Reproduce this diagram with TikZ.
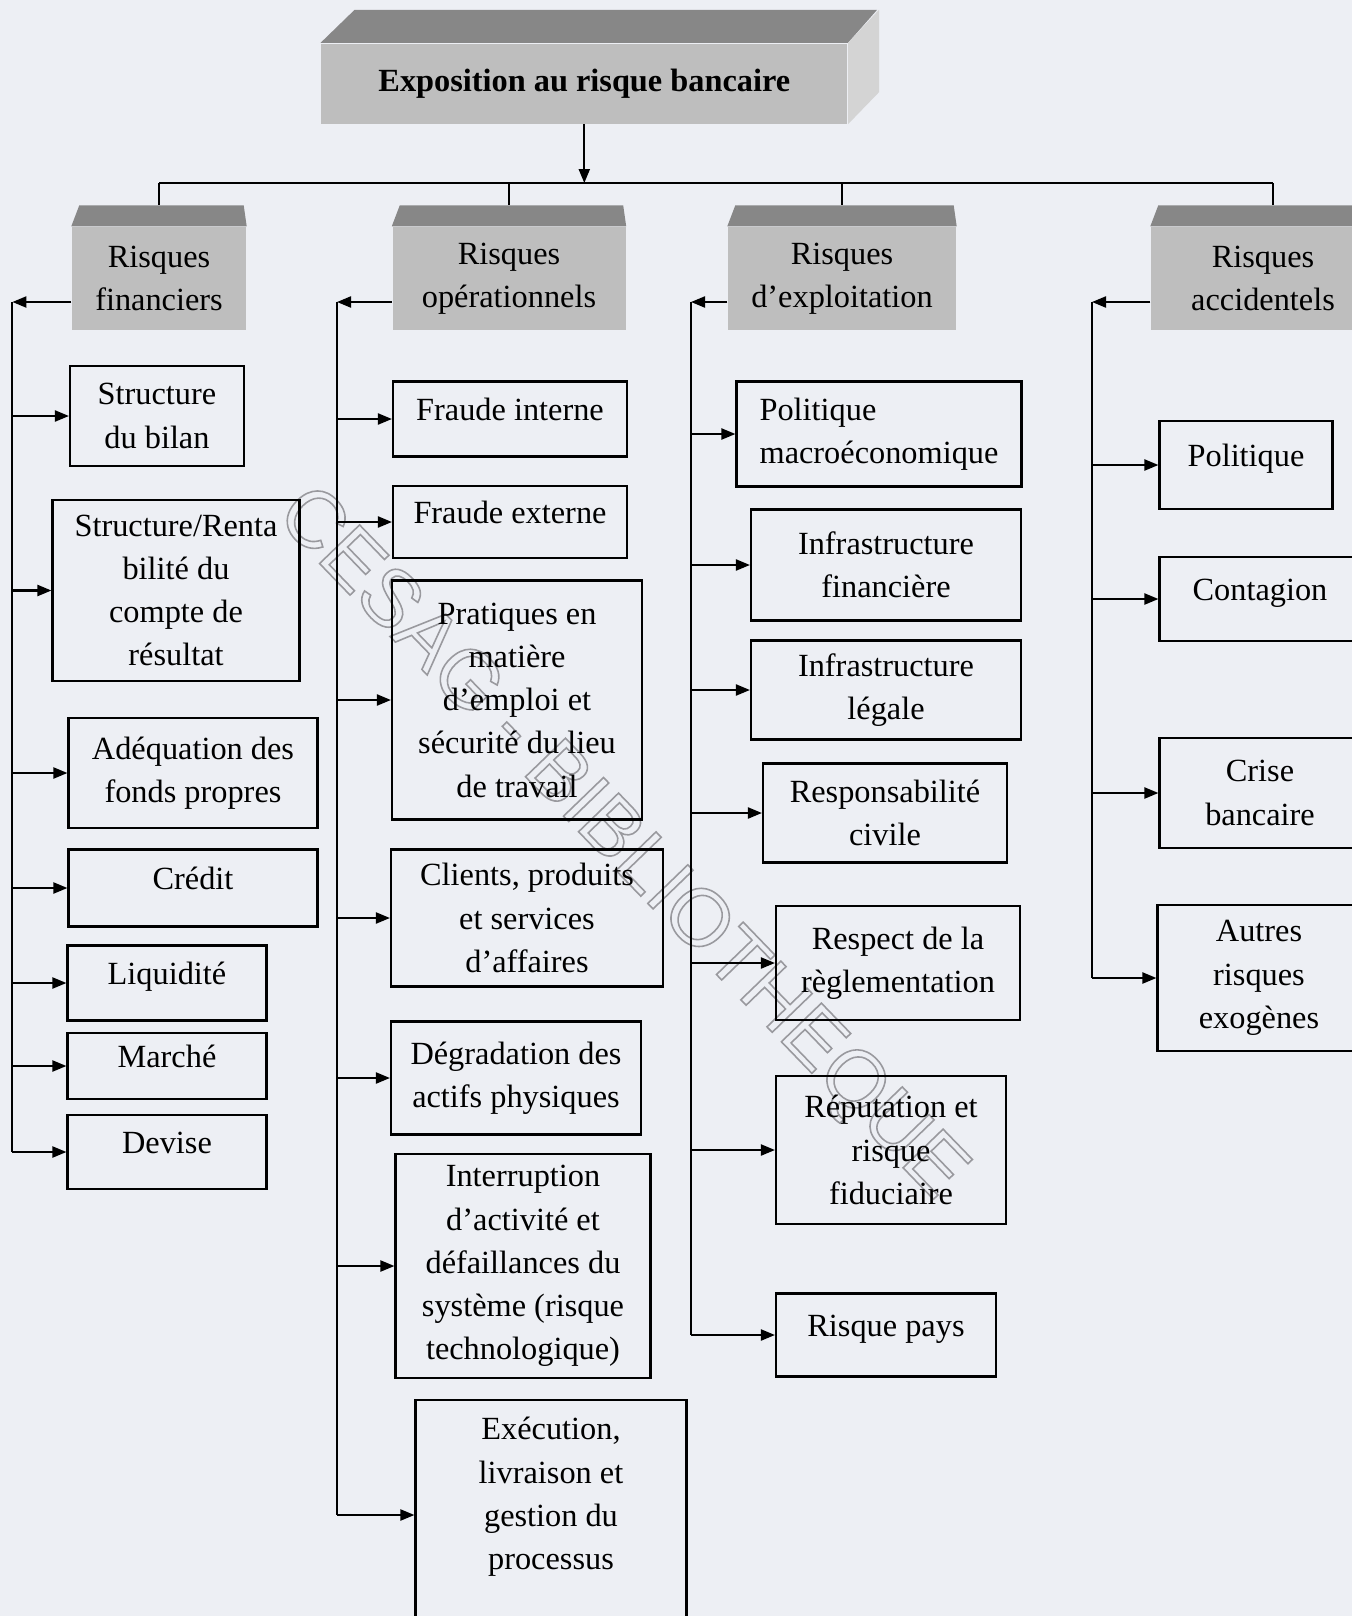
\documentclass[tikz,border=0pt]{standalone}
\usepackage{fontspec}
\setmainfont{Liberation Serif}
\newfontfamily\filigrane{Liberation Sans}
\usetikzlibrary{arrows.meta}
\definecolor{fond}{RGB}{237,239,244}
\definecolor{face}{RGB}{190,190,190}
\definecolor{dessus}{RGB}{135,135,135}
\definecolor{cote}{RGB}{212,212,212}
\newcommand{\contourfil}[1]{\special{pdf:code q 1 Tr 0.45 w 0.6 0.6 0.62 RG}#1\special{pdf:code Q}}

\begin{document}
\begin{tikzpicture}[
    risque/.style={draw, line width=0.6pt, align=center, inner sep=2pt,
                   font=\fontsize{9.2}{12.3}\selectfont},
    ligne/.style={text depth=5.4pt},
    tete/.style={fill=face, align=center, minimum width=#1, minimum height=1.03cm,
                 font=\fontsize{9.2}{12.3}\selectfont},
    fleche/.style={draw, line width=0.6pt, -{Triangle[length=1.4mm,width=1.1mm]}},
    trait/.style={draw, line width=0.6pt},
]

% Fond
\clip (0,0) rectangle (13.52,-16.16);
\fill[fond] (0,0) rectangle (13.52,-16.16);

% Filigrane
\node[rotate=-46, font=\filigrane\fontsize{23}{23}\selectfont] (filigrane) at (6.2,-8.45)
    {\contourfil{CESAG - BIBLIOTHEQUE}};

% Titre
\node[fill=face, minimum width=5.26cm, minimum height=0.80cm,
      font=\bfseries\fontsize{9.2}{12.3}\selectfont] (titre) at (5.843,-0.835)
      {Exposition au risque bancaire};
\fill[dessus] (titre.north west) -- ++(0.34,0.33) -- ++(5.225,0) -- (titre.north east) -- cycle;
\fill[cote] (titre.north east) -- ++(0.31,0.33) -- ++(0,-0.824) -- (titre.south east) -- cycle;

% Categories
\node[tete=1.74cm] (fin) at (1.59,-2.785) {Risques\\financiers};
\node[tete=2.33cm] (ope) at (5.09,-2.785) {Risques\\opérationnels};
\node[tete=2.28cm] (exp) at (8.42,-2.785) {Risques\\d'exploitation};
\node[tete=2.24cm] (acc) at (12.63,-2.785) {Risques\\accidentels};

\fill[dessus] (fin.north west) -- ++(0.08,0.21) -- ([xshift=-0.03cm,yshift=0.21cm]fin.north east) -- (fin.north east) -- cycle;
\fill[dessus] (ope.north west) -- ++(0.08,0.21) -- ([xshift=-0.03cm,yshift=0.21cm]ope.north east) -- (ope.north east) -- cycle;
\fill[dessus] (exp.north west) -- ++(0.08,0.21) -- ([xshift=-0.03cm,yshift=0.21cm]exp.north east) -- (exp.north east) -- cycle;
\fill[dessus] (acc.north west) -- ++(0.08,0.21) -- ([xshift=-0.03cm,yshift=0.21cm]acc.north east) -- (acc.north east) -- cycle;

% Bus
\coordinate (bus) at (5.843,-1.83);
\draw[fleche] (titre) -- (bus);
\draw[trait] (fin.north |- bus) -- ([xshift=1mm]acc.north |- bus);
\draw[trait] (fin.north |- bus) -- ([yshift=2.1mm]fin.north);
\draw[trait] (ope.north |- bus) -- ([yshift=2.1mm]ope.north);
\draw[trait] (exp.north |- bus) -- ([yshift=2.1mm]exp.north);
\draw[trait] ([xshift=1mm]acc.north |- bus) -- ([xshift=1mm,yshift=2.1mm]acc.north);

% Risques financiers
\node[risque, minimum width=1.74cm, minimum height=1.00cm] (bilan) at (1.57,-4.16) {Structure\\du bilan};
\node[risque, minimum width=2.47cm, minimum height=1.81cm] (renta) at (1.76,-5.905) {Structure/Renta\\bilité du\\compte de\\résultat};
\node[risque, minimum width=2.49cm, minimum height=1.10cm] (fonds) at (1.93,-7.73) {Adéquation des\\fonds propres};
\node[risque, ligne, minimum width=2.49cm, minimum height=0.77cm] (credit) at (1.93,-8.88) {Crédit};
\node[risque, ligne, minimum width=1.99cm, minimum height=0.75cm] (liq) at (1.67,-9.83) {Liquidité};
\node[risque, ligne, minimum width=1.99cm, minimum height=0.66cm] (marche) at (1.67,-10.66) {Marché};
\node[risque, ligne, minimum width=1.99cm, minimum height=0.74cm] (dev) at (1.67,-11.52) {Devise};

% Risques operationnels
\node[risque, ligne, minimum width=2.34cm, minimum height=0.75cm] (finterne) at (5.10,-4.19) {Fraude interne};
\node[risque, ligne, minimum width=2.34cm, minimum height=0.72cm] (fexterne) at (5.10,-5.22) {Fraude externe};
\node[risque, minimum width=2.50cm, minimum height=2.39cm] (emploi) at (5.17,-7.00) {Pratiques en\\matière\\d'emploi et\\sécurité du lieu\\de travail};
\node[risque, minimum width=2.72cm, minimum height=1.37cm] (clients) at (5.27,-9.18) {Clients, produits\\et services\\d'affaires};
\node[risque, minimum width=2.50cm, minimum height=1.13cm] (actifs) at (5.16,-10.78) {Dégradation des\\actifs physiques};
\node[risque, minimum width=2.55cm, minimum height=2.24cm] (interr) at (5.23,-12.66) {Interruption\\d'activité et\\défaillances du\\système (risque\\technologique)};
\node[risque, minimum width=2.71cm, minimum height=2.30cm] (execution) at (5.51,-15.15) {Exécution,\\livraison et\\gestion du\\processus\\\mbox{}};

% Risques d'exploitation
\node[risque, align=left, minimum width=2.85cm, minimum height=1.05cm] (macro) at (8.79,-4.34) {Politique\\macroéconomique};
\node[risque, minimum width=2.70cm, minimum height=1.11cm] (infrafin) at (8.86,-5.65) {Infrastructure\\financière};
\node[risque, minimum width=2.70cm, minimum height=0.99cm] (infraleg) at (8.86,-6.90) {Infrastructure\\légale};
\node[risque, minimum width=2.44cm, minimum height=0.99cm] (civile) at (8.85,-8.13) {Responsabilité\\civile};
\node[risque, minimum width=2.44cm, minimum height=1.14cm] (regle) at (8.98,-9.63) {Respect de la\\règlementation};
\node[risque, minimum width=2.30cm, minimum height=1.48cm] (reput) at (8.91,-11.50) {Réputation et\\risque\\fiduciaire};
\node[risque, ligne, minimum width=2.20cm, minimum height=0.83cm] (pays) at (8.86,-13.35) {Risque pays};

% Risques accidentels
\node[risque, ligne, minimum width=1.73cm, minimum height=0.88cm] (politique) at (12.46,-4.65) {Politique};
\node[risque, ligne, minimum width=2.01cm, minimum height=0.84cm] (contagion) at (12.60,-5.99) {Contagion};
\node[risque, minimum width=2.01cm, minimum height=1.10cm] (crise) at (12.60,-7.93) {Crise\\bancaire};
\node[risque, minimum width=2.03cm, minimum height=1.46cm] (autres) at (12.59,-9.78) {Autres\\risques\\exogènes};

% Branches financiers
\coordinate (sfin) at (0.124,-3.02);
\draw[fleche] (fin.west |- sfin) -- (sfin);
\draw[trait] (sfin) -- (sfin |- dev.west);
\draw[fleche] (sfin |- bilan.west) -- (bilan.west);
\draw[fleche] (sfin |- renta.west) -- (renta.west);
\draw[fleche] (sfin |- fonds.west) -- (fonds.west);
\draw[fleche] (sfin |- credit.west) -- (credit.west);
\draw[fleche] (sfin |- liq.west) -- (liq.west);
\draw[fleche] (sfin |- marche.west) -- (marche.west);
\draw[fleche] (sfin |- dev.west) -- (dev.west);

% Branches operationnels
\coordinate (sope) at (3.37,-3.02);
\draw[fleche] (ope.west |- sope) -- (sope);
\draw[trait] (sope) -- (sope |- execution.west);
\draw[fleche] (sope |- finterne.west) -- (finterne.west);
\draw[fleche] (sope |- fexterne.west) -- (fexterne.west);
\draw[fleche] (sope |- emploi.west) -- (emploi.west);
\draw[fleche] (sope |- clients.west) -- (clients.west);
\draw[fleche] (sope |- actifs.west) -- (actifs.west);
\draw[fleche] (sope |- interr.west) -- (interr.west);
\draw[fleche] (sope |- execution.west) -- (execution.west);

% Branches exploitation
\coordinate (sexp) at (6.91,-3.02);
\draw[fleche] (exp.west |- sexp) -- (sexp);
\draw[trait] (sexp) -- (sexp |- pays.west);
\draw[fleche] (sexp |- macro.west) -- (macro.west);
\draw[fleche] (sexp |- infrafin.west) -- (infrafin.west);
\draw[fleche] (sexp |- infraleg.west) -- (infraleg.west);
\draw[fleche] (sexp |- civile.west) -- (civile.west);
\draw[fleche] (sexp |- regle.west) -- (regle.west);
\draw[fleche] (sexp |- reput.west) -- (reput.west);
\draw[fleche] (sexp |- pays.west) -- (pays.west);

% Branches accidentels
\coordinate (sacc) at (10.92,-3.02);
\draw[fleche] (acc.west |- sacc) -- (sacc);
\draw[trait] (sacc) -- (sacc |- autres.west);
\draw[fleche] (sacc |- politique.west) -- (politique.west);
\draw[fleche] (sacc |- contagion.west) -- (contagion.west);
\draw[fleche] (sacc |- crise.west) -- (crise.west);
\draw[fleche] (sacc |- autres.west) -- (autres.west);

\end{tikzpicture}
\end{document}
